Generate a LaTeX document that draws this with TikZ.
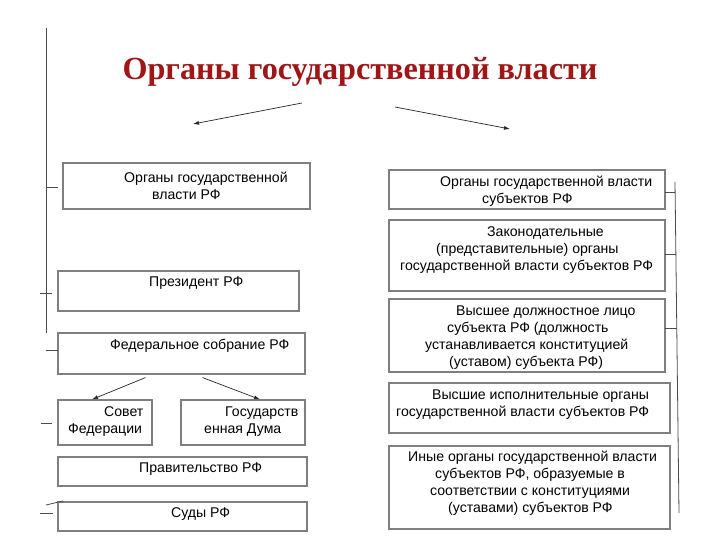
\documentclass[tikz,border=0pt]{standalone}
\usepackage{fontspec}
\setmainfont{Liberation Sans}
\newfontfamily\titlefont{Liberation Serif}
\usetikzlibrary{arrows.meta}
\definecolor{titlered}{HTML}{A01616}
\definecolor{frame}{HTML}{7F7F7F}
\tikzset{
  orgbox/.style={draw=frame, line width=1.1pt, inner sep=0pt},
  boxtext/.style={anchor=west, align=left, inner sep=0pt, font=\fontsize{14.1}{17}\selectfont},
  title/.style={font=\titlefont\bfseries\fontsize{32.2}{36}\selectfont, text=titlered, inner sep=0pt},
  arr/.style={line width=0.7pt, draw=black!85, -{Latex[length=6pt,width=4pt]}},
  bracket/.style={line width=0.8pt, draw=black!70}
}

\begin{document}
\begin{tikzpicture}[x=1pt,y=-1pt]
\path[use as bounding box] (0,0) rectangle (720,540);
\fill[white] (0,0) rectangle (720,540);

\node[title] (title) at (360,72) {Органы государственной власти};
\coordinate (tleft) at (302,103);
\coordinate (tleftend) at (193,124);
\coordinate (tright) at (395,107);
\coordinate (trightend) at (510,129);
\draw[arr] (tleft) -- (tleftend);
\draw[arr] (tright) -- (trightend);

% federal side
\node[orgbox, minimum width=247, minimum height=46] (rf) at (186.5,186) {};
\node[boxtext] (rftext) at (124,185.5) {Органы государственной\\\hspace*{28pt}власти РФ};
\node[orgbox, minimum width=241, minimum height=40] (pres) at (178.5,291) {};
\node[boxtext] (prestext) at (149,283) {Президент РФ};
\node[orgbox, minimum width=247, minimum height=41] (fs) at (181.5,353.5) {};
\node[boxtext] (fstext) at (110,346) {Федеральное собрание РФ};
\node[orgbox, minimum width=94, minimum height=45] (sf) at (105,422.5) {};
\node[boxtext] (sftext) at (68,421.5) {\hspace*{36pt}Совет\\Федерации};
\node[orgbox, minimum width=124, minimum height=45] (gd) at (243,422.5) {};
\node[boxtext] (gdtext) at (204,421.5) {\hspace*{21pt}Государств\\енная Дума};
\node[orgbox, minimum width=249, minimum height=29] (prav) at (182.5,471.5) {};
\node[boxtext] (pravtext) at (139,469) {Правительство РФ};
\node[orgbox, minimum width=249, minimum height=29] (sud) at (182.5,516.5) {};
\node[boxtext] (sudtext) at (171,514) {Суды РФ};

\draw[arr] ([xshift=-36pt,yshift=-3pt]fs.south) -- ([xshift=-13pt]sf.north);
\draw[arr] ([xshift=21pt,yshift=-3pt]fs.south) -- ([xshift=17pt]gd.north);

% regional side
\node[orgbox, minimum width=276, minimum height=39] (subj) at (527,189.5) {};
\node[boxtext] (subjtext) at (440,191.5) {Органы государственной власти\\\hspace*{42pt}субъектов РФ};
\node[orgbox, minimum width=276, minimum height=71] (zak) at (527,255.5) {};
\node[boxtext] (zaktext) at (400,250) {\hspace*{87pt}Законодательные\\\hspace*{36pt}(представительные) органы\\государственной власти субъектов РФ};
\node[orgbox, minimum width=276, minimum height=73] (vdl) at (527,335.5) {};
\node[boxtext] (vdltext) at (425,337.5) {\hspace*{31pt}Высшее должностное лицо\\\hspace*{22pt}субъекта РФ (должность\\устанавливается конституцией\\\hspace*{24pt}(уставом) субъекта РФ)};
\node[orgbox, minimum width=281, minimum height=50] (vio) at (529.5,408) {};
\node[boxtext] (viotext) at (396,404.5) {\hspace*{36pt}Высшие исполнительные органы\\государственной власти субъектов РФ};
\node[orgbox, minimum width=281, minimum height=83] (ino) at (529.5,487.5) {};
\node[boxtext] (inotext) at (408,483.5) {Иные органы государственной власти\\\hspace*{27pt}субъектов РФ, образуемые в\\\hspace*{22pt}соответствии с конституциями\\\hspace*{40pt}(уставами) субъектов РФ};

% brackets
\draw[bracket] (46,28) -- (46,333);
\draw[bracket] (46,187) -- (58,187);
\draw[bracket] (40,293) -- (52,293);
\draw[bracket] (46,350) -- (58,350);
\draw[bracket] (41,423) -- (52,423);
\draw[bracket] (46,505) -- (63,501);
\draw[bracket] (40,513) -- (53,513);
\draw[bracket] (675,182) -- (679,513);
\draw[bracket] (665,192) -- (675.3,192);
\draw[bracket] (665,254) -- (676,254);
\draw[bracket] (665,328) -- (677,328);

\end{tikzpicture}
\end{document}
